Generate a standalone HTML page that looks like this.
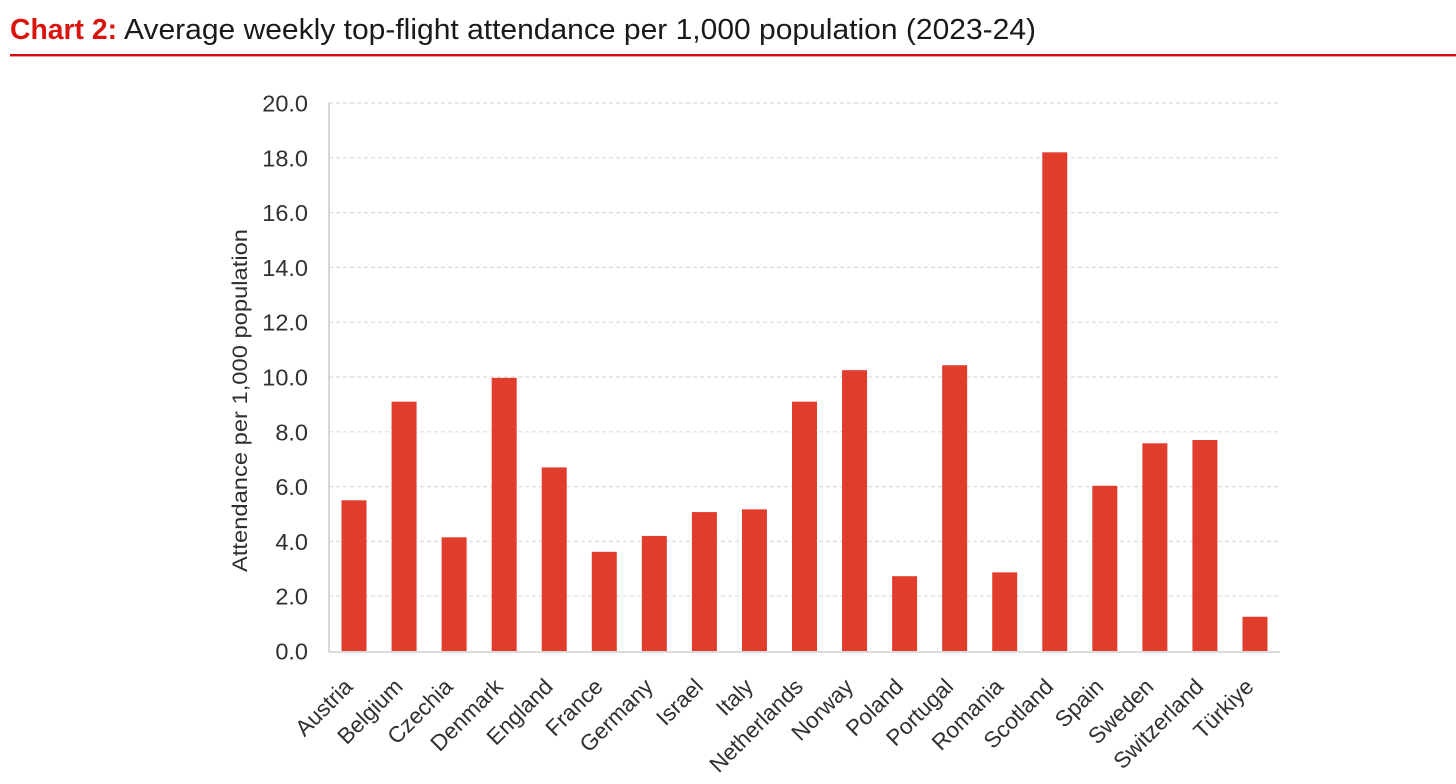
<!DOCTYPE html>
<html lang="en">
<head>
<meta charset="utf-8">
<title>Chart 2</title>
<style>
html,body{margin:0;padding:0;background:#fff;width:1456px;height:784px;overflow:hidden}
svg{display:block}
text{font-family:"Liberation Sans",sans-serif}
</style>
</head>
<body>
<svg id="chart" xmlns="http://www.w3.org/2000/svg" width="1456" height="784" viewBox="0 0 1456 784">
  <text x="10" y="39" font-size="29" font-weight="bold" textLength="107" lengthAdjust="spacingAndGlyphs" fill="#d9140f">Chart 2:</text>
  <text x="124" y="39" font-size="29" textLength="912" lengthAdjust="spacingAndGlyphs" fill="#1a1a1a">Average weekly top-flight attendance per 1,000 population (2023-24)</text>
  <rect x="10" y="54" width="1446" height="2.4" fill="#d4070f"/>
  <g id="grid"></g>
  <g id="bars"></g>
  <g id="axes"></g>
  <g id="ylabels"></g>
  <g id="xlabels"></g>
  <text transform="translate(247,572) rotate(-90)" font-size="21.5" textLength="343" lengthAdjust="spacingAndGlyphs" fill="#332f2c">Attendance per 1,000 population</text>
</svg>
<script>
const categories = ["Austria","Belgium","Czechia","Denmark","England","France","Germany","Israel","Italy","Netherlands","Norway","Poland","Portugal","Romania","Scotland","Spain","Sweden","Switzerland","Türkiye"];
const attendance = [5.5,9.1,4.15,9.97,6.7,3.62,4.2,5.07,5.17,9.1,10.25,2.73,10.43,2.87,18.2,6.03,7.58,7.7,1.25];
const yTicks = [0,2,4,6,8,10,12,14,16,18,20];

const NS = "http://www.w3.org/2000/svg";
const plot = {left:329, right:1280, top:103, bottom:651, yMax:20};
const bandWidth = (plot.right - plot.left) / categories.length;
const barWidth = 25;
const yScale = v => plot.bottom - (v / plot.yMax) * (plot.bottom - plot.top);
const xCenter = i => plot.left + bandWidth * (i + 0.5);

function make(tag, attrs, parent, text) {
  const el = document.createElementNS(NS, tag);
  for (const k in attrs) el.setAttribute(k, attrs[k]);
  if (text !== undefined) el.textContent = text;
  parent.appendChild(el);
  return el;
}

const grid = document.getElementById('grid');
const bars = document.getElementById('bars');
const axes = document.getElementById('axes');
const ylabels = document.getElementById('ylabels');
const xlabels = document.getElementById('xlabels');

yTicks.forEach(t => {
  if (t !== 0) {
    const line = make('line', {x1:plot.left, x2:plot.right, y1:yScale(t), y2:yScale(t), stroke:'#dcdcdc', 'stroke-width':1.2, 'stroke-dasharray':'4 3'}, grid);
    
    
  }
  const label = make('text', {x:308, y:yScale(t) + 8.5, 'text-anchor':'end', 'font-size':23.5, fill:'#332f2c'}, ylabels, t.toFixed(1));
  
  
});

attendance.forEach((v, i) => {
  const y = yScale(v);
  const bar = make('rect', {x:xCenter(i) - barWidth / 2, y:y, width:barWidth, height:plot.bottom - y, fill:'#e13d2c'}, bars);
  
  
});

categories.forEach((c, i) => {
  const x = xCenter(i);
  const y = 688;
  const label = make('text', {x:x, y:y, 'text-anchor':'end', 'font-size':22.5, fill:'#332f2c', transform:`rotate(-45 ${x} ${y})`}, xlabels, c);
  
  
});

const yAxis = make('line', {x1:plot.left, x2:plot.left, y1:plot.top, y2:plot.bottom + 1, stroke:'#d0cecd', 'stroke-width':1.6}, axes);


const xAxis = make('line', {x1:plot.left, x2:plot.right, y1:plot.bottom + 1, y2:plot.bottom + 1, stroke:'#d0cecd', 'stroke-width':1.6}, axes);


</script>
</body>
</html>
